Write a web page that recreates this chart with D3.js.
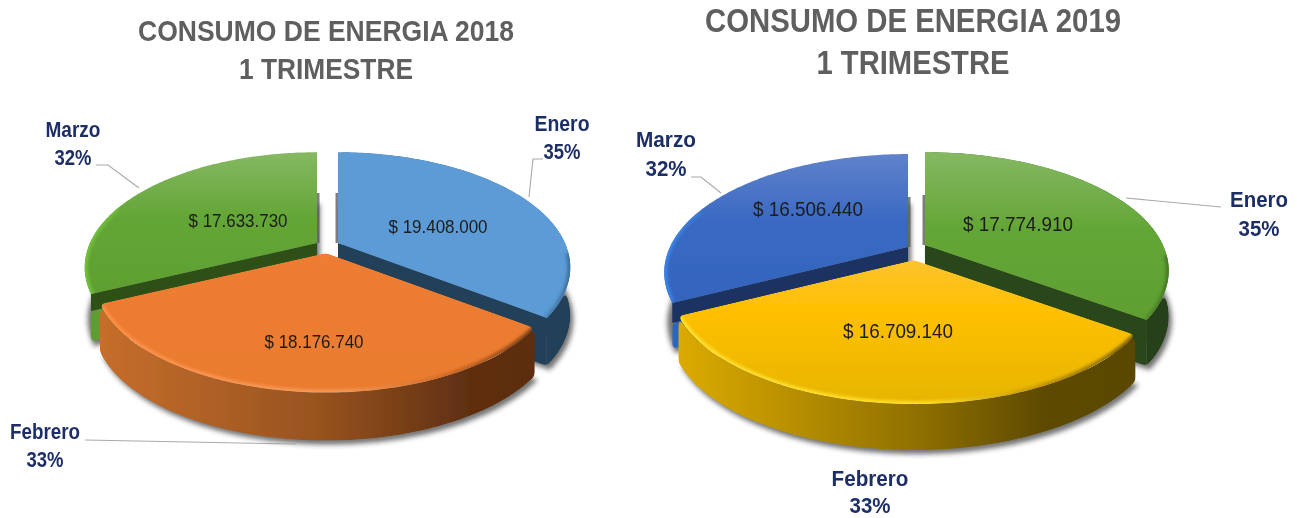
<!DOCTYPE html>
<html><head><meta charset="utf-8">
<script src="https://cdnjs.cloudflare.com/ajax/libs/d3/7.8.5/d3.min.js"></script>
<style>html,body{margin:0;background:#fff}svg{display:block}</style></head>
<body><svg id="c" width="1299" height="518"></svg>
<script>
const months = ["Enero","Febrero","Marzo"];
const values2018 = [19408000,18176740,17633730];
const values2019 = [17774910,16709140,16506440];
const titles2018 = ["CONSUMO DE ENERGIA 2018","1 TRIMESTRE"];
const titles2019 = ["CONSUMO DE ENERGIA 2019","1 TRIMESTRE"];

const svg = d3.select("#c");
const defs = svg.append("defs");
[["soft",0.5],["rim",1.6],["shadow",2.6]].forEach(([id,s])=>{
  defs.append("filter").attr("id",id).attr("filterUnits","userSpaceOnUse")
    .attr("x",0).attr("y",0).attr("width",1299).attr("height",518)
    .append("feGaussianBlur").attr("stdDeviation",s);
});
const rf = defs.append("filter").attr("id","round").attr("filterUnits","userSpaceOnUse")
  .attr("x",0).attr("y",0).attr("width",1299).attr("height",518)
  .attr("color-interpolation-filters","sRGB");
rf.append("feGaussianBlur").attr("in","SourceAlpha").attr("stdDeviation",2.6).attr("result","b");
rf.append("feComponentTransfer").attr("in","b").attr("result","t")
  .append("feFuncA").attr("type","linear").attr("slope",8).attr("intercept",-3.5);
rf.append("feComposite").attr("in","SourceGraphic").attr("in2","t").attr("operator","in");

const money = d3.formatLocale({decimal:",",thousands:".",grouping:[3],currency:["$ ",""]}).format("$,d");
const root = svg.append("g").attr("filter","url(#soft)");
const deg = d=>d*Math.PI/180;

function grad(id,horizontal,stops,a,b){
  const g = defs.append("linearGradient").attr("id",id).attr("gradientUnits","userSpaceOnUse")
    .attr("x1",horizontal?a:0).attr("x2",horizontal?b:0).attr("y1",horizontal?0:a).attr("y2",horizontal?0:b);
  stops.forEach(([o,c])=>g.append("stop").attr("offset",o).attr("stop-color",c));
  return `url(#${id})`;
}

function drawPie(cfg){
  const arcs = d3.pie().sort(null).value(d=>d)(cfg.values);
  const total = d3.sum(cfg.values);
  const line = d3.line();
  const order = [0,2,1];
  const proj = (apex,theta)=>{
    const u=Math.sin(theta), v=-Math.cos(theta), w=1-cfg.k*v;
    return [apex[0]+cfg.R*u/w, apex[1]+cfg.a*v/w];
  };
  const arcPts = (apex,a0,a1)=>d3.range(0,121).map(i=>proj(apex,a0+(a1-a0)*i/120));
  const down = (p,d=cfg.depth)=>[p[0],p[1]+d];

  order.forEach(i=>{
    const s=arcs[i], apex=cfg.apex[i];
    const low=arcPts(apex,s.startAngle,s.endAngle).map(p=>[p[0]+3,p[1]+cfg.depth+4]);
    root.append("path").attr("d",line([[apex[0]+3,apex[1]+cfg.depth+4]].concat(low))+"Z")
      .attr("fill","#3c3c3c").attr("opacity",.72).attr("filter","url(#shadow)");
  });

  order.forEach(i=>{
    const s=arcs[i], apex=cfg.apex[i], st=cfg.styles[i];
    const g=root.append("g");
    const top=arcPts(apex,s.startAngle,s.endAngle);
    const low=top.map(p=>down(p));
    const xs=top.map(p=>p[0]);
    const x0=d3.min(xs), x1=d3.max(xs);
    if(st.cut){
      const side=i===0?-1:1;
      g.append("path").attr("d",line([[apex[0]+side,apex[1]-cfg.strip],[apex[0]+side,apex[1]]]))
        .attr("stroke","#5e5e5e").attr("stroke-width",3).attr("fill","none").attr("opacity",.8);
    }
    const solid=g.append("g").attr("filter","url(#round)");
    if(!st.lowerCut){
      solid.append("path").attr("d",line(top.concat(low.slice().reverse()))+"Z")
        .attr("fill",grad(`w${cfg.id}${i}`,true,st.wall,x0,x1));
    }
    if(st.cut){
      const c=proj(apex, i===0 ? s.endAngle : s.startAngle);
      if(st.lowerCut){
        solid.append("path").attr("d",line([down(apex,cfg.band),down(c,cfg.band),down(c),down(apex)])+"Z")
          .attr("fill",st.lowerCut);
      } else {
        solid.append("path").attr("d",line([apex,c,down(c),down(apex)])+"Z").attr("fill",st.cut);
      }
      g.append("path").attr("d",line([apex,c,down(c,cfg.band),down(apex,cfg.band)])+"Z").attr("fill",st.cut);
    }
    const topPoly=[apex].concat(top);
    const ys=topPoly.map(p=>p[1]);
    const surface=g.append("g");
    if(st.roundTop) surface.attr("filter","url(#round)");
    const cid=`clip${cfg.id}${i}`;
    defs.append("clipPath").attr("id",cid).append("path").attr("d",line(topPoly)+"Z");
    surface.append("path").attr("d",line(topPoly)+"Z")
      .attr("fill",grad(`t${cfg.id}${i}`,false,st.top,d3.min(ys),d3.max(ys)));
    const rimPts=arcPts(apex,deg(st.rimFrom),deg(st.rimTo));
    surface.append("g").attr("clip-path",`url(#${cid})`).append("path")
      .attr("d",line(rimPts)).attr("fill","none")
      .attr("stroke",grad(`r${cfg.id}${i}`,true,st.rim,x0,x1))
      .attr("stroke-width",6).attr("filter","url(#rim)");
  });

  cfg.leaders.forEach(l=>root.append("path").attr("d",line(l)).attr("fill","none")
    .attr("stroke","#a9a9a9").attr("stroke-width",1.1));

  arcs.forEach((s,i)=>{
    root.append("text").attr("x",cfg.valuePos[i][0]).attr("y",cfg.valuePos[i][1])
      .attr("dy",".36em").attr("text-anchor","middle")
      .attr("font-family","Liberation Sans").attr("font-size",cfg.valueSize).attr("fill","#1c1c1c")
      .attr("textLength",cfg.valueWidth).attr("lengthAdjust","spacingAndGlyphs")
      .text(money(s.data));
  });
  months.forEach((m,i)=>{
    const [x,y1,y2]=cfg.labelPos[i];
    const t=root.append("g").attr("font-family","Liberation Sans")
      .attr("font-weight","bold").attr("font-size",cfg.labelSize).attr("fill","#1f2f66").attr("text-anchor","middle");
    t.append("text").attr("x",x).attr("y",y1).attr("dy",".36em")
      .attr("textLength",cfg.labelW[i]).attr("lengthAdjust","spacingAndGlyphs").text(m);
    t.append("text").attr("x",x).attr("y",y2).attr("dy",".36em")
      .attr("textLength",cfg.pctW).attr("lengthAdjust","spacingAndGlyphs")
      .text(Math.round(cfg.values[i]/total*100)+"%");
  });
  cfg.titles.forEach((tx,i)=>{
    root.append("text").attr("x",cfg.titleX).attr("y",cfg.titleY[i]).attr("dy",".36em")
      .attr("text-anchor","middle").attr("font-family","Liberation Sans").attr("font-weight","bold")
      .attr("font-size",cfg.titleSize).attr("fill","#5f5f5f")
      .attr("textLength",cfg.titleW[i]).attr("lengthAdjust","spacingAndGlyphs").text(tx);
  });
}

const wOrange=[[0,"#c66e2c"],[.5,"#98531f"],[.85,"#5f2f11"],[1,"#5c2d10"]];
const wYellow=[[0,"#dcab00"],[.5,"#937300"],[.8,"#5e4a00"],[1,"#5a4700"]];
const tGreen=[[0,"#85b863"],[.45,"#64a637"],[1,"#5f9f32"]];

drawPie({id:"a",values:values2018,titles:titles2018,R:227,k:.212,a:110,depth:48,band:17,strip:50,
  apex:[[338,243],[326,253],[317,243]],
  styles:[
   {top:[[0,"#5b9bd5"],[1,"#5b9bd5"]],wall:[[0,"#2c506f"],[1,"#223f58"]],cut:"#223f58",
    rim:[[0,"#5b9bd5"],[.8,"#5b9bd5"],[1,"#3f6f9a"]],rimFrom:95,rimTo:127},
   {top:[[0,"#ed7d31"],[1,"#ea7b2f"]],wall:wOrange,roundTop:true,
    rim:[[0,"#ff8f45"],[.55,"#f59a58"],[.8,"#d06a25"],[1,"#7a3d14"]],rimFrom:126,rimTo:245},
   {top:tGreen,cut:"#2e4f17",lowerCut:"#5d9d30",
    rim:[[0,"#72c23c"],[.5,"#64a637"],[1,"#64a637"]],rimFrom:245,rimTo:290}],
  leaders:[[[543,159],[533,159],[529,197]],[[85,440],[296,444]],[[96,165],[108,165],[139,188]]],
  valuePos:[[438,226],[314,341],[238,220]],valueSize:19,valueWidth:99,
  labelPos:[[562,123,151],[45,431,459],[73,129,157]],labelSize:22,labelW:[55,70,55],pctW:37,
  titleX:326,titleY:[30,68],titleSize:30,titleW:[376,174]});

drawPie({id:"b",values:values2019,titles:titles2019,R:238,k:.216,a:113,depth:46,band:20,strip:50,
  apex:[[925,245],[914,260],[908,247]],
  styles:[
   {top:tGreen,wall:[[0,"#2e4f17"],[1,"#25401a"]],cut:"#29461a",
    rim:[[0,"#64a637"],[.8,"#64a637"],[1,"#467a27"]],rimFrom:95,rimTo:126},
   {top:[[0,"#fcc330"],[.35,"#ffc000"],[1,"#e6b500"]],wall:wYellow,roundTop:true,
    rim:[[0,"#ffe030"],[.55,"#ffdc28"],[.8,"#c29400"],[1,"#7a6000"]],rimFrom:125,rimTo:244},
   {top:[[0,"#6082cb"],[.45,"#3a69c2"],[1,"#3364bd"]],cut:"#1a3060",lowerCut:"#2a66c0",
    rim:[[0,"#3a84e8"],[.5,"#3a69c2"],[1,"#3a69c2"]],rimFrom:244,rimTo:290}],
  leaders:[[[1126,198],[1221,207]],[[691,177],[701,177],[721,193]]],
  valuePos:[[1018,224],[898,331],[808,209]],valueSize:20,valueWidth:110,
  labelPos:[[1259,199,228],[870,478,505],[666,139,168]],labelSize:22,labelW:[58,77,60],pctW:41,
  titleX:913,titleY:[20,62],titleSize:33,titleW:[416,193]});
</script></body></html>
